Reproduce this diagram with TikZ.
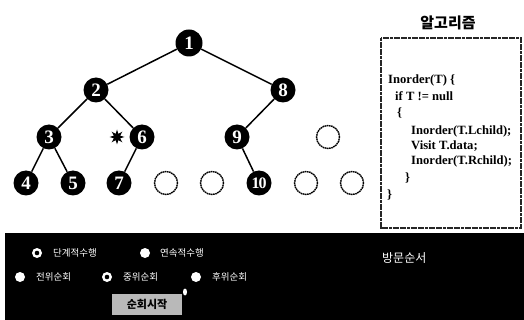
\documentclass[tikz,border=0pt]{standalone}
\usepackage{fontspec}
\setmainfont{Liberation Serif}
\newfontfamily\kr{Noto Sans CJK KR}
\usetikzlibrary{shapes.geometric}
\begin{document}
\begin{tikzpicture}[x=1pt,y=-1pt,
  tn/.style={circle,fill=black,minimum size=25pt,inner sep=0pt,text=white,font=\fontsize{19}{19}\selectfont\bfseries},
  en/.style={circle,draw=black,dash pattern=on 1.6pt off 0.6pt,line width=1.4pt,minimum size=23pt,inner sep=0pt},
  tedge/.style={line width=1.5pt},
  code/.style={anchor=base west,inner sep=0pt,font=\fontsize{12.6}{14}\selectfont\bfseries},
  rsel/.style={circle,fill=white,minimum size=10pt,inner sep=0pt,path picture={\fill[black] (path picture bounding box.center) circle (2.3pt);}},
  runsel/.style={circle,fill=white,minimum size=10pt,inner sep=0pt},
  rtext/.style={anchor=west,inner sep=0pt,text=white,font=\kr\fontsize{9.5}{10}\selectfont}
]
\useasboundingbox (0,0) rectangle (524,320);
\fill[white] (0,0) rectangle (524,320);

% tree
\node[tn,minimum size=27pt] (n1) at (189,43) {1};
\node[tn] (n2) at (96,90) {2};
\node[tn] (n8) at (283,90) {8};
\node[tn] (n3) at (49,137) {3};
\node[tn] (n6) at (142,137) {6};
\node[tn] (n9) at (237,137) {9};
\node[en] (e1) at (328,137) {};
\node[tn] (n4) at (26,183) {4};
\node[tn] (n5) at (73,183) {5};
\node[tn] (n7) at (119,183) {7};
\node[en] (e2) at (166,183) {};
\node[en] (e3) at (212,183) {};
\node[tn,font=\fontsize{16}{16}\selectfont\bfseries] (n10) at (259,183) {1\kern-1pt0};
\node[en] (e4) at (306,183) {};
\node[en] (e5) at (352,183) {};
\node[star,star points=8,star point ratio=2.2,fill=black,minimum size=15pt,inner sep=0pt] (st) at (117,137) {};

\draw[tedge] (n1) -- (n2);
\draw[tedge] (n1) -- (n8);
\draw[tedge] (n2) -- (n3);
\draw[tedge] (n2) -- (n6);
\draw[tedge] (n8) -- (n9);
\draw[tedge] (n3) -- (n4);
\draw[tedge] (n3) -- (n5);
\draw[tedge] (n6) -- (n7);
\draw[tedge] (n9) -- (n10);

% algorithm box
\node[font=\kr\bfseries\fontsize{15}{15}\selectfont] (hd) at (448,23) {알고리즘};
\draw[line width=1.2pt,draw=black!85,dash pattern=on 3pt off 0.6pt] (381,38) rectangle (521,228);
\node[code] (c1) at (388,84) {Inorder(T) \{};
\node[code] (c2) at (395,101) {if T != null};
\node[code] (c3) at (397,117) {\{};
\node[code] (c4) at (411,135) {Inorder(T.Lchild);};
\node[code] (c5) at (411,150) {Visit T.data;};
\node[code] (c6) at (411,165) {Inorder(T.Rchild);};
\node[code] (c7) at (405,182) {\}};
\node[code] (c8) at (387,199) {\}};

% control panel
\fill[black] (5,233) rectangle (524,320);
\node[rsel] (r1) at (37,253) {};
\node[rtext] (t1) at (53,253) {단계적수행};
\node[runsel] (r2) at (145,253) {};
\node[rtext] (t2) at (160,253) {연속적수행};
\node[runsel] (r3) at (20,277) {};
\node[rtext] (t3) at (36,277) {전위순회};
\node[rsel] (r4) at (107,277) {};
\node[rtext] (t4) at (123,277) {중위순회};
\node[runsel] (r5) at (196,277) {};
\node[rtext] (t5) at (212,277) {후위순회};
\node[ellipse,fill=white,minimum width=4pt,minimum height=7pt,inner sep=0pt] (cur) at (185,292) {};
\node[fill=gray!55,minimum width=70pt,minimum height=21pt,inner sep=0pt,font=\kr\bfseries\fontsize{11}{11}\selectfont] (btn) at (147,304.5) {순회시작};
\node[anchor=west,inner sep=0pt,text=white,font=\kr\fontsize{12}{12}\selectfont] (vo) at (382,258) {방문순서};
\end{tikzpicture}
\end{document}
